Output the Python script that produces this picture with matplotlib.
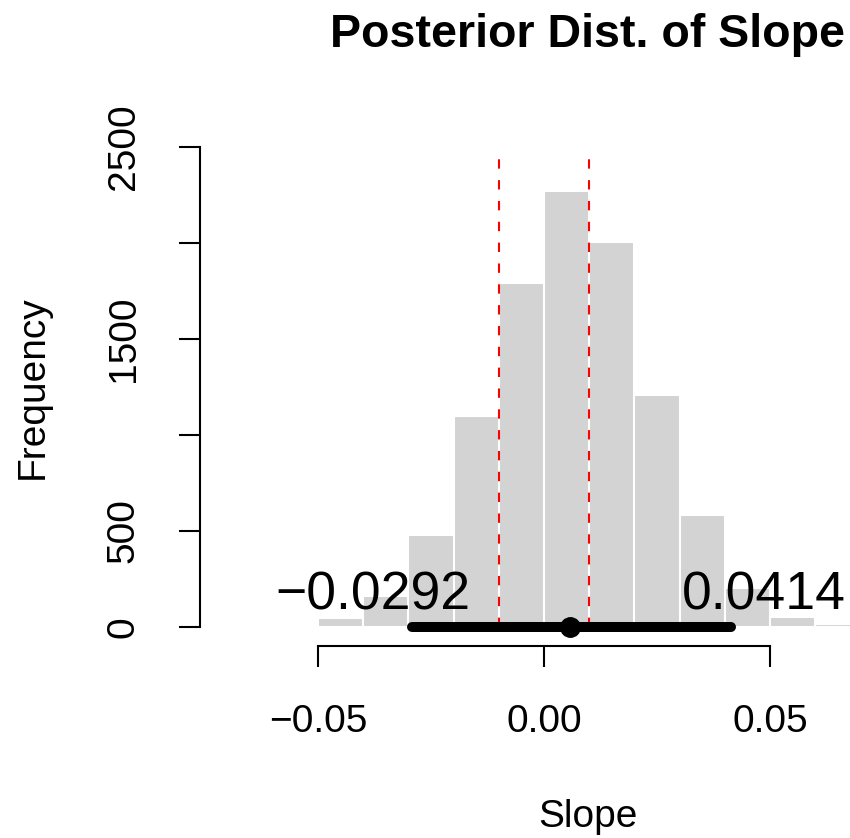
import matplotlib
matplotlib.use('Agg')
import matplotlib.pyplot as plt
from matplotlib.transforms import ScaledTranslation

plt.rcParams['font.family'] = ['Liberation Sans', 'DejaVu Sans']

bin_edges = [-0.05, -0.04, -0.03, -0.02, -0.01, 0.0, 0.01, 0.02, 0.03, 0.04, 0.05, 0.06]
counts = [47, 161, 479, 1099, 1792, 2273, 2005, 1208, 583, 203, 52, 15]
bin_width = 0.01

rope = [-0.01, 0.01]
hdi_low, hdi_high = -0.0292, 0.0414
post_mode = 0.0058

y_ticks = [0, 500, 1000, 1500, 2000, 2500]
y_labels = ['0', '500', '', '1500', '', '2500']
x_ticks = [-0.05, 0.0, 0.05]
x_labels = ['\u22120.05', '0.00', '0.05']

W, H = 850, 838
fig = plt.figure(figsize=(W / 100, H / 100), dpi=100)
# plot region runs past the right edge of the figure, like the cropped original
ax = fig.add_axes([200 / W, (H - 646) / H, (976 - 200) / W, (646 - 128) / H])
ax.set_xlim(-0.0761, 0.0956)
ax.set_ylim(-100, 2600)

ax.bar(bin_edges, counts, width=bin_width, align='edge',
       color='#d3d3d3', edgecolor='white', linewidth=1.5, zorder=1)

ax.vlines(rope, 0, 2440, colors='red', linestyles=(0, (4.5, 5.5)), linewidth=1.5, zorder=2)

ax.plot([hdi_low, hdi_high], [0, 0], color='black', linewidth=7.2,
        solid_capstyle='round', zorder=3)
ax.plot([post_mode], [0], 'o', color='black', markersize=14, zorder=4)

for sp in ['top', 'right']:
    ax.spines[sp].set_visible(False)
ax.spines['left'].set_bounds(0, 2500)
ax.spines['bottom'].set_bounds(-0.05, 0.05)
for sp in ['left', 'bottom']:
    ax.spines[sp].set_linewidth(1.5)

ax.set_yticks(y_ticks)
ax.set_yticklabels(y_labels, rotation=90, va='center')
ax.set_xticks(x_ticks)
ax.set_xticklabels(x_labels)
ax.tick_params(axis='both', length=15, width=1.5, labelsize=28, pad=27)

ax.set_xlabel('Slope', fontsize=28)
ax.xaxis.set_label_coords(0.5, (646 - 838 + 11) / 518.0)
ax.xaxis.label.set_va('baseline')
ax.set_ylabel('Frequency', fontsize=28)
ax.yaxis.set_label_coords((33 - 200) / 776.0, 0.5)
ax.yaxis.label.set_va('center')

ax.text(0.5, (646 - 47) / 518.0, 'Posterior Dist. of Slope', transform=ax.transAxes,
        ha='center', va='baseline', fontsize=33.5, fontweight='bold')

# HDI end labels, anchored at 70% / 30% of their width like R's adj
t1 = ax.text(hdi_low, 90, '\u22120.0292', ha='left', va='baseline', fontsize=38.5, zorder=5)
t2 = ax.text(hdi_high, 90, '0.0414', ha='left', va='baseline', fontsize=38.5, zorder=5)
fig.canvas.draw()
r = fig.canvas.get_renderer()
for t, frac in [(t1, 0.7), (t2, 0.3)]:
    w = t.get_window_extent(r).width
    t.set_transform(ax.transData + ScaledTranslation(-frac * w / 100, 0, fig.dpi_scale_trans))

fig.savefig('out.png', dpi=100)
